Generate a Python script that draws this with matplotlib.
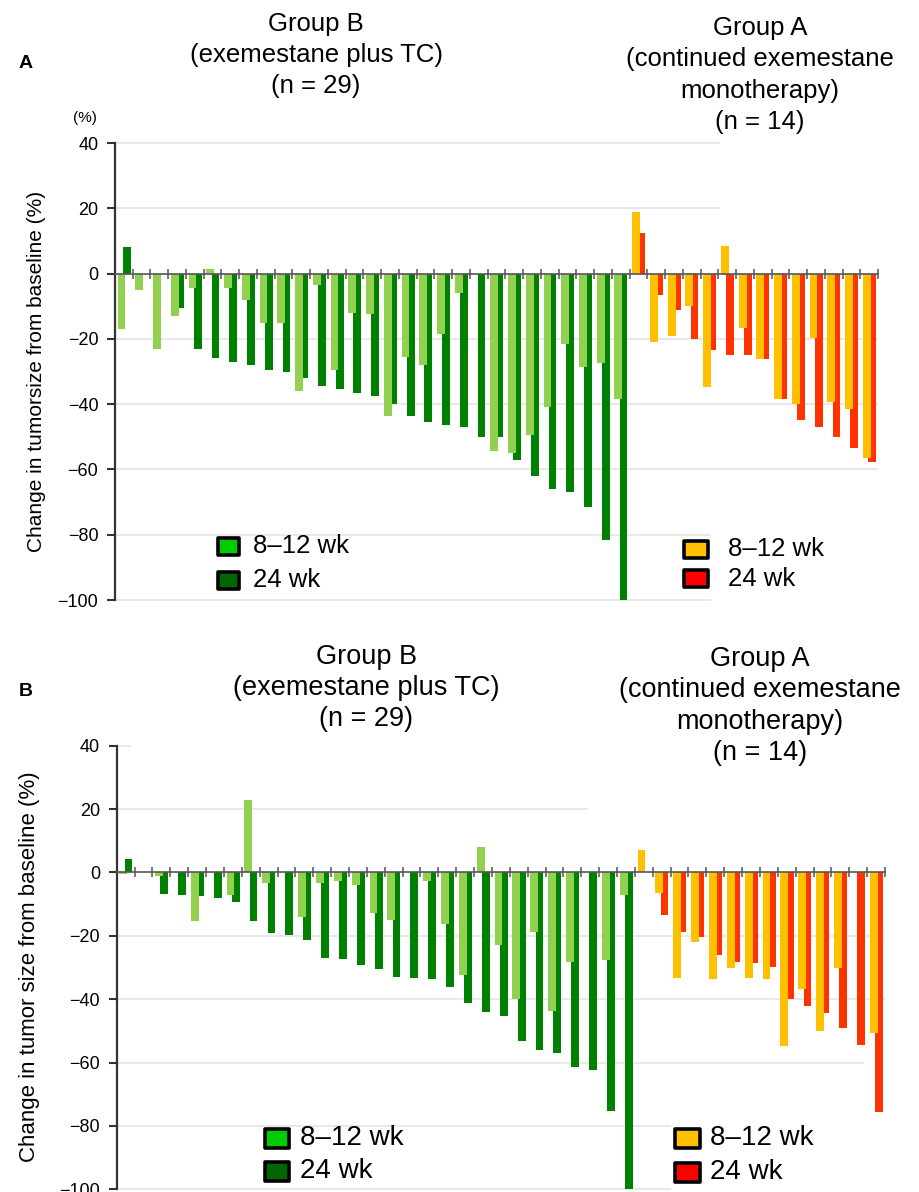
import numpy as np
import matplotlib
matplotlib.use("Agg")
import matplotlib.pyplot as plt
from matplotlib.patches import Rectangle

plt.rcParams["font.family"] = ["Liberation Sans", "DejaVu Sans"]

nan = np.nan

# Panel A, group B (exemestane plus TC), one value per patient
a_grpB_8_12wk = [-17, -5, -23, -13, -4.5, 1.5, -4.5, -8, -15, -15,
                 -36, -3.5, -29.5, -12, -12.5, -43.5, -25.5, -28, -18.5, -6,
                 nan, -54.5, -55, -49.5, -41, -21.5, -28.5, -27.5, -38.5]
a_grpB_24wk = [8, nan, nan, -10.5, -23, -26, -27, -28, -29.5, -30,
               -32, -34.5, -35.5, -36.5, -37.5, -40, -43.5, -45.5, -46.5, -47,
               -50, -50, -57, -62, -66, -67, -71.5, -81.5, -100]
# Panel A, group A (continued exemestane monotherapy)
a_grpA_8_12wk = [18.8, -21, -19, -10, -34.7, 8.3, -16.6, -26.3, -38.3, -40,
                 -19.7, -39.4, -41.4, -56.6]
a_grpA_24wk = [12.4, -6.6, -11.3, -20, -23.5, -25, -25, -26.3, -38.3, -45,
               -47, -50, -53.5, -57.8]

# Panel B, group B
b_grpB_8_12wk = [-0.6, nan, -1, nan, -15.4, nan, -7, 23, -3.3, nan,
                 -14, -3.4, -2.8, -4, -12.9, -15, nan, -2.8, -16.3, -32.4,
                 7.9, -22.8, -40, -18.7, -43.7, -28.3, nan, -27.5, -7]
b_grpB_24wk = [4.2, nan, -6.8, -7.1, -7.5, -8, -9.2, -15.4, -19.1, -19.8,
               -21.4, -27.1, -27.3, -29.1, -30.4, -33, -33.4, -33.5, -36.3, -41.1,
               -43.9, -45.3, -53.2, -56.1, -57, -61.4, -62.5, -75.4, -100]
# Panel B, group A
b_grpA_8_12wk = [7.1, -6.4, -33.4, -22.1, -33.5, -30, -33.4, -33.5, -54.9, -36.7,
                 -49.9, -30.3, nan, -50.8]
b_grpA_24wk = [nan, -13.3, -18.9, -20.4, -26.1, -28.2, -28.6, -29.7, -39.9, -42,
               -44.3, -49.1, -54.5, -75.6]

yticks = [40, 20, 0, -20, -40, -60, -80, -100]
legend_labels = ["8\u201312 wk", "24 wk"]
title_grpB = "Group B\n(exemestane plus TC)\n(n = 29)"
title_grpA = "Group A\n(continued exemestane\nmonotherapy)\n(n = 14)"

LIGHT_GREEN = "#92D050"
DARK_GREEN = "#008000"
ORANGE = "#FFC000"
RED = "#FF3300"
GRID = "#E4E4E4"

W, H = 919, 1192


def fx(px):
    return px / W


def fy(py):
    return 1 - py / H


fig = plt.figure(figsize=(W / 100, H / 100), dpi=100)


def draw_panel(rect, green_early, green_late, orange_early, orange_late, grid_spans):
    """Paired waterfall bars: 8-12 wk in front, 24 wk shifted right behind it."""
    ax = fig.add_axes(rect)
    early = np.array(green_early + orange_early, dtype=float)
    late = np.array(green_late + orange_late, dtype=float)
    n = len(early)
    idx = np.arange(n)
    n_green = len(green_early)
    early_colors = [LIGHT_GREEN] * n_green + [ORANGE] * (n - n_green)
    late_colors = [DARK_GREEN] * n_green + [RED] * (n - n_green)

    for level, xmax in grid_spans:
        ax.hlines(level, 0, xmax, color=GRID, lw=1.2, zorder=0.5, clip_on=False)
    ax.bar(idx + 0.66, late, width=0.44, color=late_colors, zorder=1.5)
    ax.bar(idx + 0.37, early, width=0.44, color=early_colors, zorder=1.8)

    ax.set_xlim(0, n)
    ax.set_ylim(-100, 40)
    ax.set_yticks(yticks)
    ax.set_xticks(np.arange(1, n + 1))
    ax.set_xticklabels([])
    ax.spines["top"].set_visible(False)
    ax.spines["right"].set_visible(False)
    ax.spines["bottom"].set_position(("data", 0))
    ax.spines["bottom"].set_color("#555555")
    ax.spines["bottom"].set_linewidth(1.2)
    ax.spines["left"].set_color("#333333")
    ax.spines["left"].set_linewidth(1.6)
    ax.tick_params(axis="x", direction="inout", length=7, width=1.1, color="#555555")
    ax.tick_params(axis="y", direction="out", length=6, width=1.5, color="#333333",
                   pad=6, labelsize=13)
    ax.patch.set_alpha(0)
    return ax


def draw_legend(x, centers, colors, size, box_w, box_h, gap):
    for cy, color, label in zip(centers, colors, legend_labels):
        fig.add_artist(Rectangle((fx(x), fy(cy + box_h / 2)), box_w / W, box_h / H,
                                 facecolor=color, edgecolor="black", lw=2.6,
                                 joinstyle="round", transform=fig.transFigure))
        fig.text(fx(x + box_w + gap), fy(cy), label, fontsize=size,
                 ha="left", va="center")


# ---- Panel A ----
draw_panel([fx(115), fy(600), (878 - 115) / W, (600 - 143) / H],
           a_grpB_8_12wk, a_grpB_24wk, a_grpA_8_12wk, a_grpA_24wk,
           [(40, 34.1), (20, 34.1), (-20, 43), (-40, 43), (-60, 43),
            (-80, 33.6), (-100, 33.6)])
fig.text(fx(26), fy(64), "A", fontsize=14, weight="bold", ha="center", va="center")
fig.text(fx(85), fy(118), "(%)", fontsize=11, ha="center", va="center")
fig.text(fx(316), fy(55), title_grpB, fontsize=18.5, ha="center", va="center",
         linespacing=1.38)
fig.text(fx(760), fy(75), title_grpA, fontsize=18.5, ha="center", va="center",
         linespacing=1.38)
fig.text(fx(37), fy(371), "Change in tumorsize from baseline (%)", fontsize=15,
         rotation=90, ha="center", va="center")
draw_legend(218, [546, 580], ["#00CC00", "#006600"], 18.5, 21, 17, 14)
draw_legend(684, [549, 579], [ORANGE, "#FF0000"], 18.5, 24, 17, 20)

# ---- Panel B ----
draw_panel([fx(116.7), fy(1189.3), (885 - 116.7) / W, (1189.3 - 745.7) / H],
           b_grpB_8_12wk, b_grpB_24wk, b_grpA_8_12wk, b_grpA_24wk,
           [(40, 0.8), (20, 26.4), (-20, 43), (-40, 43), (-60, 41.8),
            (-80, 31), (-100, 31)])
fig.text(fx(26), fy(692), "B", fontsize=14, weight="bold", ha="center", va="center")
fig.text(fx(366), fy(688), title_grpB, fontsize=19.5, ha="center", va="center",
         linespacing=1.25)
fig.text(fx(760), fy(706), title_grpA, fontsize=19.5, ha="center", va="center",
         linespacing=1.28)
fig.text(fx(30), fy(967), "Change in tumor size from baseline (%)", fontsize=16,
         rotation=90, ha="center", va="center")
draw_legend(265, [1138, 1171], ["#00CC00", "#006600"], 20, 24, 19, 11)
draw_legend(675, [1138, 1172], [ORANGE, "#FF0000"], 20, 25, 19, 10)

fig.savefig("out.png", dpi=100)
